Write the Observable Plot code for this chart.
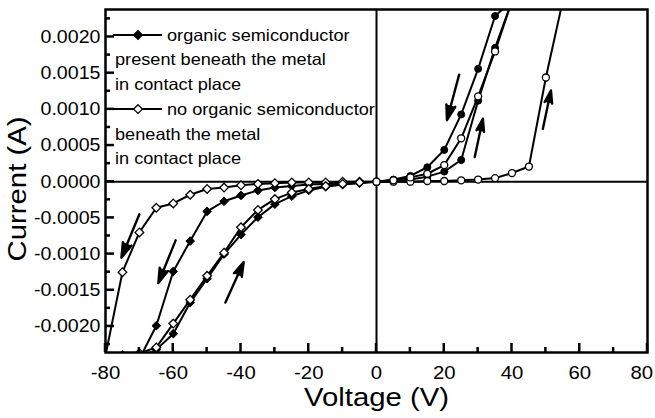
<!DOCTYPE html>
<html>
<head>
<meta charset="utf-8">
<script src="https://cdn.jsdelivr.net/npm/d3@7"></script>
<script src="https://cdn.jsdelivr.net/npm/@observablehq/plot@0.6"></script>
<style>
  html, body { margin: 0; padding: 0; background: #fff; }
  #wrap { position: relative; width: 655px; height: 418px; }
  #overlay { position: absolute; left: 0; top: 0; pointer-events: none; }
  text { font-family: "Liberation Sans", Arial, sans-serif; }
</style>
</head>
<body>
<div id="wrap"></div>
<script>
// ---------- data ----------
// organic semiconductor present (filled markers): sweep 0→40→0→-70→0
const V_org = [0,5,10,15,20,25,30,35,40, 35,30,25,20,15,10,5,0,
  -5,-10,-15,-20,-25,-30,-35,-40,-45,-50,-55,-60,-65,-70,
  -65,-60,-55,-50,-45,-40,-35,-30,-25,-20,-15,-10,-5,0];
const I_org = [0,0.00001,0.00003,0.00007,0.00014,0.0003,0.00112,0.00185,0.0025,
  0.00229,0.00156,0.00093,0.00044,0.0002,0.00008,0.00003,0,
  -0.00001,-0.00002,-0.00003,-0.00004,-0.00006,-0.00008,-0.00012,-0.00019,-0.00027,-0.00041,-0.00082,-0.00124,-0.00199,-0.00245,
  -0.00232,-0.0021,-0.00167,-0.00134,-0.001,-0.00073,-0.00049,-0.00031,-0.0002,-0.00012,-0.00007,-0.00004,-0.00002,0];

// no organic semiconductor (open markers): sweep 0→55→0→-80→0
const V_no = [0,5,10,15,20,25,30,35,40,45,50,55, 50,45,40,35,30,25,20,15,10,5,0,
  -5,-10,-15,-20,-25,-30,-35,-40,-45,-50,-55,-60,-65,-70,-75,-80,
  -75,-70,-65,-60,-55,-50,-45,-40,-35,-30,-25,-20,-15,-10,-5,0];
const I_no = [0,0,0,0.00001,0.00001,0.00002,0.00003,0.00005,0.00012,0.00021,0.00144,0.0025,
  0.0027,0.0026,0.0025,0.0018,0.00118,0.0006,0.00023,0.00011,0.00006,0.00002,0,
  0,0,-0.00001,-0.00001,-0.00001,-0.00002,-0.00003,-0.00005,-0.00008,-0.0001,-0.00018,-0.0003,-0.00036,-0.0007,-0.00125,-0.0024,
  -0.0024,-0.00237,-0.00229,-0.00196,-0.00163,-0.0013,-0.00098,-0.00063,-0.00039,-0.00024,-0.00015,-0.0001,-0.00006,-0.00003,-0.00001,0];

// sweep-direction arrows (start → end, in data units)
const arrowX1 = [24.4, 29.0, 49.1, -70.0, -59.3, -44.6];
const arrowY1 = [0.00148, 0.00034, 0.00073, -0.00045, -0.00081, -0.00167];
const arrowX2 = [20.8, 31.4, 51.5, -75.3, -64.4, -39.2];
const arrowY2 = [0.00085, 0.00087, 0.00126, -0.00105, -0.0014, -0.00111];

const xTicks = [-80,-60,-40,-20,0,20,40,60,80];
const xMinor = [-70,-50,-30,-10,10,30,50,70];
const yTicks = [-0.002,-0.0015,-0.001,-0.0005,0,0.0005,0.001,0.0015,0.002];
const yMinor = [-0.00225,-0.00175,-0.00125,-0.00075,-0.00025,0.00025,0.00075,0.00125,0.00175,0.00225];

const legendLines = [
  {text: "organic semiconductor", marker: "filled"},
  {text: "present beneath the metal"},
  {text: "in contact place"},
  {text: "no organic semiconductor", marker: "open"},
  {text: "beneath the metal"},
  {text: "in contact place"}
];

// ---------- tables ----------
const org = V_org.map((v, i) => ({V: v, I: I_org[i]}));
const no = V_no.map((v, i) => ({V: v, I: I_no[i]}));
const arrows = arrowX1.map((x, i) => ({x1: x, y1: arrowY1[i], x2: arrowX2[i], y2: arrowY2[i]}));

const fmtY = d => d.toFixed(4);
const fmtX = d => String(d);

const W = 655, H = 418, ML = 105, MR = 8, MT = 9, MB = 66;

const chart = Plot.plot({
  width: W, height: H,
  marginLeft: ML, marginRight: MR, marginTop: MT, marginBottom: MB,
  x: {domain: [-80, 80], axis: null},
  y: {domain: [-0.00236, 0.00238], axis: null},
  style: {fontFamily: "Liberation Sans, Arial, sans-serif", fontSize: "18.5px", color: "black", background: "white"},
  marks: [
    Plot.ruleX([0], {stroke: "black", strokeWidth: 2}),
    Plot.ruleY([0], {stroke: "black", strokeWidth: 2}),
    Plot.line(org, {x: "V", y: "I", stroke: "black", strokeWidth: 2, clip: true}),
    Plot.line(no, {x: "V", y: "I", stroke: "black", strokeWidth: 2, clip: true}),
    Plot.dot(org.filter(d => d.V < 0), {x: "V", y: "I", symbol: "diamond2", r: 3.9, fill: "black", stroke: "black", strokeWidth: 1, clip: true}),
    Plot.dot(org.filter(d => d.V >= 0), {x: "V", y: "I", symbol: "circle", r: 3.5, fill: "black", stroke: "black", strokeWidth: 1, clip: true}),
    Plot.dot(no.filter(d => d.V < 0), {x: "V", y: "I", symbol: "diamond2", r: 3.9, fill: "white", stroke: "black", strokeWidth: 1.3, clip: true}),
    Plot.dot(no.filter(d => d.V >= 0), {x: "V", y: "I", symbol: "circle", r: 3.5, fill: "white", stroke: "black", strokeWidth: 1.3, clip: true}),
    Plot.arrow(arrows, {x1: "x1", y1: "y1", x2: "x2", y2: "y2", stroke: "black", strokeWidth: 2.4, headLength: 12, headAngle: 34}),
    Plot.frame({stroke: "black", strokeWidth: 2.5}),
    Plot.axisX(xTicks, {tickSize: 0, tickPadding: 13, tickFormat: fmtX, label: null, fontSize: 18.5}),
    Plot.axisY(yTicks, {tickSize: 0, tickPadding: 5, tickFormat: fmtY, label: null, fontSize: 18.5}),
    Plot.text(["Voltage (V)"], {frameAnchor: "bottom", dy: 45, fontSize: 25.5, textAnchor: "middle", lineAnchor: "middle", fill: "black"}),
    Plot.text(["Current (A)"], {frameAnchor: "left", dx: -88, dy: 8, rotate: -90, fontSize: 25.5, textAnchor: "middle", lineAnchor: "middle", fill: "black"})
  ]
});

const wrap = document.getElementById("wrap");
wrap.appendChild(chart);

// filled arrow heads
chart.querySelectorAll('g[aria-label="arrow"] path').forEach(p => {
  p.setAttribute("fill", "black");
  p.setAttribute("stroke-linejoin", "miter");
});

const ns = "http://www.w3.org/2000/svg";
const ov = document.createElementNS(ns, "svg");
ov.setAttribute("id", "overlay");
ov.setAttribute("width", W);
ov.setAttribute("height", H);
wrap.appendChild(ov);

function addLine(x1, y1, x2, y2, w) {
  const ln = document.createElementNS(ns, "line");
  ln.setAttribute("x1", x1); ln.setAttribute("x2", x2);
  ln.setAttribute("y1", y1); ln.setAttribute("y2", y2);
  ln.setAttribute("stroke", "#000"); ln.setAttribute("stroke-width", w);
  ov.appendChild(ln);
}

// inward ticks, placed with the chart's own scales
const sx = chart.scale("x"), sy = chart.scale("y");
const yBottom = sy.apply(sy.domain[0]);
const xLeft = sx.apply(sx.domain[0]);
xTicks.forEach(v => { const px = sx.apply(v); addLine(px, yBottom, px, yBottom - 9, 2.5); });
xMinor.forEach(v => { const px = sx.apply(v); addLine(px, yBottom, px, yBottom - 5, 2.5); });
yTicks.forEach(v => { const py = sy.apply(v); addLine(xLeft, py, xLeft + 9, py, 2.5); });
yMinor.forEach(v => { const py = sy.apply(v); addLine(xLeft, py, xLeft + 5, py, 2.5); });

// legend (inside the frame, top-left)
legendLines.forEach((d, i) => {
  const y = 35 + i * 24.7;
  if (d.marker) {
    addLine(113, y, 162, y, 2);
    const dm = document.createElementNS(ns, "path");
    dm.setAttribute("d", d3.symbol(d3.symbolDiamond2, 3.9 * 3.9 * Math.PI)());
    dm.setAttribute("transform", `translate(138,${y})`);
    dm.setAttribute("fill", d.marker === "filled" ? "black" : "white");
    dm.setAttribute("stroke", "black");
    dm.setAttribute("stroke-width", 1.3);
    ov.appendChild(dm);
  }
  const t = document.createElementNS(ns, "text");
  t.setAttribute("x", d.marker ? 167 : 115);
  t.setAttribute("y", y);
  t.setAttribute("dy", "0.35em");
  t.setAttribute("font-size", "16.5px");
  t.setAttribute("fill", "black");
  t.textContent = d.text;
  ov.appendChild(t);
  t.setAttribute("textLength", t.getComputedTextLength() * 1.1);
  t.setAttribute("lengthAdjust", "spacingAndGlyphs");
});

// slight horizontal widening of text, as in the reference
function widen(sel, k) {
  chart.querySelectorAll(sel).forEach(el => {
    const L = el.getComputedTextLength();
    if (L > 0) {
      el.setAttribute("textLength", L * k);
      el.setAttribute("lengthAdjust", "spacingAndGlyphs");
    }
  });
}
widen('g[aria-label="x-axis tick label"] text', 1.1);
widen('g[aria-label="y-axis tick label"] text', 1.06);
widen('g[aria-label="text"] text', 1.15);

// keep the last x tick label inside the picture
chart.querySelectorAll('g[aria-label="x-axis tick label"] text').forEach(el => {
  const r = el.getBoundingClientRect();
  const over = r.right - (W - 2);
  if (over > 0) el.setAttribute("dx", -over);
});
</script>
</body>
</html>
